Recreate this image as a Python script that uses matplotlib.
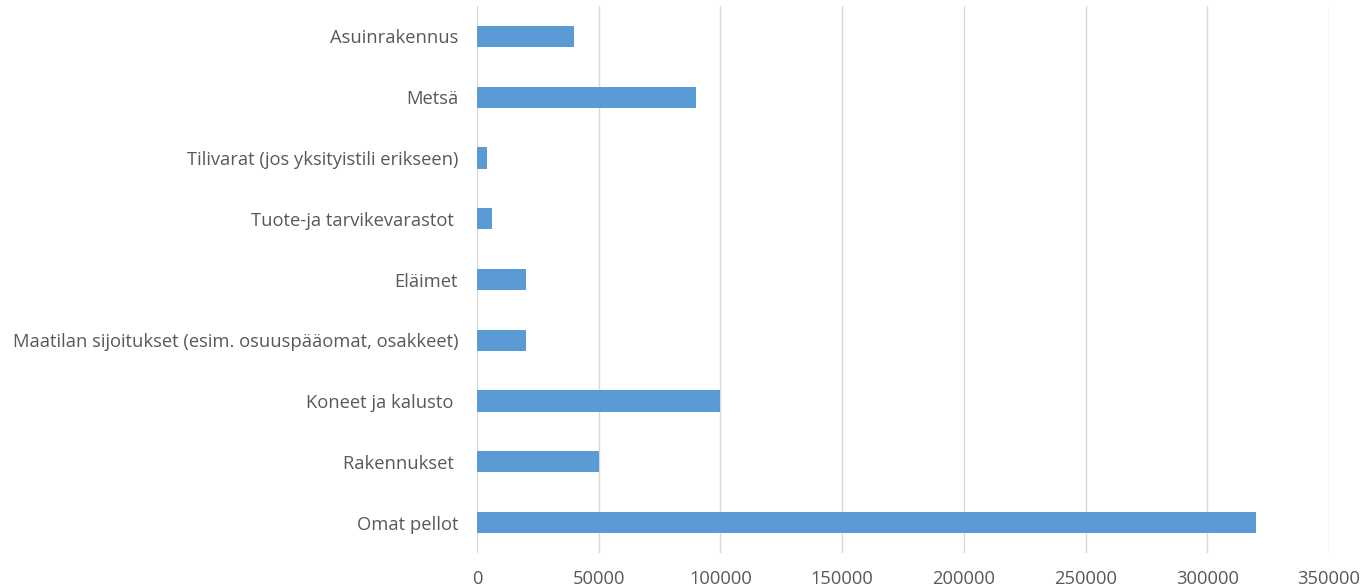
import matplotlib
matplotlib.use("Agg")
import matplotlib.pyplot as plt

# luokat alhaalta ylös samassa järjestyksessä kuin kuvassa
categories = [
    "Omat pellot",
    "Rakennukset ",
    "Koneet ja kalusto ",
    "Maatilan sijoitukset (esim. osuuspääomat, osakkeet)",
    "Eläimet",
    "Tuote-ja tarvikevarastot ",
    "Tilivarat (jos yksityistili erikseen)",
    "Metsä",
    "Asuinrakennus",
]
values = [320000, 50000, 100000, 20000, 20000, 6000, 4000, 90000, 40000]
xticks = [0, 50000, 100000, 150000, 200000, 250000, 300000, 350000]

plt.rcParams['font.family'] = ['Open Sans', 'DejaVu Sans']

fig = plt.figure(figsize=(13.64, 5.88), dpi=100)
ax = fig.add_axes([0.3497, 0.0595, 0.6246, 0.9303])

ax.barh(range(len(categories)), values, height=0.35, color="#5B9BD5", zorder=3)

ax.set_xlim(0, 350000)
ax.set_ylim(-0.5, len(categories) - 0.5)
ax.set_xticks(xticks)
ax.set_xticklabels([str(t) for t in xticks])
ax.set_yticks(range(len(categories)))
ax.set_yticklabels(categories)

ax.grid(axis="x", color="#D9D9D9", linewidth=1, zorder=0)
for s in ax.spines.values():
    s.set_visible(False)
ax.tick_params(axis="both", length=0, colors="#595959", labelsize=13.2)
ax.tick_params(axis="y", pad=13.5)
ax.tick_params(axis="x", pad=12)

fig.savefig("out.png", dpi=100)
